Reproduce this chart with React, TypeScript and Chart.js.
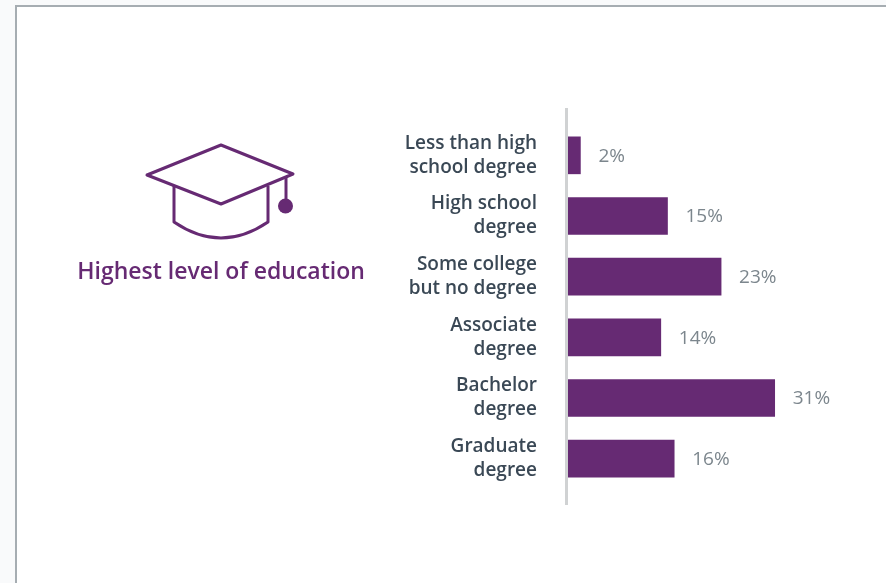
import React, { useEffect, useRef } from "react";
import { Chart, registerables } from "chart.js";

Chart.register(...registerables);

const categories = [
  ["Less than high", "school degree"],
  ["High school", "degree"],
  ["Some college", "but no degree"],
  ["Associate", "degree"],
  ["Bachelor", "degree"],
  ["Graduate", "degree"],
];
const shares = [2, 15, 23, 14, 31, 16];

const PURPLE = "#662a73";
const INK = "#3a4855";
const MUTED = "#7c868d";
const RULE = "#d0d2d3";
const FONT = '"Open Sans", sans-serif';

// Card backdrop, painted first so the chart sits on white.
const cardPlugin = {
  id: "card",
  beforeDraw(chart: any) {
    const { ctx, width, height } = chart;
    ctx.save();
    ctx.fillStyle = "#f9fafb";
    ctx.fillRect(0, 0, width, height);
    ctx.fillStyle = "#ffffff";
    ctx.fillRect(15, 5, width, height);
    ctx.fillStyle = "#a6adb2";
    ctx.fillRect(15, 5, width, 2);
    ctx.fillRect(15, 5, 2, height);
    ctx.restore();
  },
};

// Vertical rule that runs a little past the first and last category.
const axisRulePlugin = {
  id: "axisRule",
  afterDatasetsDraw(chart: any) {
    const { ctx, chartArea } = chart;
    ctx.save();
    ctx.fillStyle = RULE;
    ctx.fillRect(chartArea.left - 2, chartArea.top - 17, 3, chartArea.height + 33);
    ctx.restore();
  },
};

const valueLabelPlugin = {
  id: "valueLabels",
  afterDatasetsDraw(chart: any) {
    const { ctx } = chart;
    const meta = chart.getDatasetMeta(0);
    ctx.save();
    ctx.font = `400 19px ${FONT}`;
    ctx.fillStyle = MUTED;
    ctx.textAlign = "left";
    ctx.textBaseline = "middle";
    meta.data.forEach((bar: any, i: number) => {
      ctx.fillText(`${shares[i]}%`, bar.x + 18, bar.y + 1);
    });
    ctx.restore();
  },
};

// Mortarboard icon and its caption on the left of the panel.
const capPlugin = {
  id: "cap",
  afterDraw(chart: any) {
    const { ctx } = chart;
    ctx.save();
    ctx.strokeStyle = PURPLE;
    ctx.fillStyle = PURPLE;
    ctx.lineWidth = 3;
    ctx.lineJoin = "round";

    ctx.beginPath();
    ctx.moveTo(221, 145);
    ctx.lineTo(293, 174);
    ctx.lineTo(221, 204);
    ctx.lineTo(147, 175);
    ctx.closePath();
    ctx.stroke();

    ctx.beginPath();
    ctx.moveTo(174, 186);
    ctx.lineTo(174, 222);
    ctx.quadraticCurveTo(221, 254, 268, 222);
    ctx.lineTo(268, 186);
    ctx.stroke();

    ctx.beginPath();
    ctx.moveTo(286, 177);
    ctx.lineTo(286, 200);
    ctx.stroke();
    ctx.beginPath();
    ctx.arc(285.5, 206, 7.5, 0, Math.PI * 2);
    ctx.fill();

    ctx.font = `600 23px ${FONT}`;
    ctx.textAlign = "center";
    ctx.textBaseline = "middle";
    ctx.fillText("Highest level of education", 221, 272);
    ctx.restore();
  },
};

export default function App() {
  const canvasRef = useRef<HTMLCanvasElement>(null);

  useEffect(() => {
    document.body.style.margin = "0";
    document.body.style.overflow = "hidden";
    const chart = new Chart(canvasRef.current!, {
      type: "bar",
      data: {
        labels: categories as any,
        datasets: [
          {
            data: shares,
            backgroundColor: PURPLE,
            barThickness: 37,
            borderWidth: 0,
          },
        ],
      },
      plugins: [cardPlugin, axisRulePlugin, valueLabelPlugin, capPlugin],
      options: {
        indexAxis: "y",
        responsive: false,
        animation: false,
        layout: { padding: { top: 125, bottom: 94, left: 0, right: 51 } },
        plugins: { legend: { display: false }, tooltip: { enabled: false } },
        scales: {
          x: { display: false, min: 0, max: 40 },
          y: {
            afterFit(scale: any) {
              scale.width = 567;
            },
            grid: { display: false, drawTicks: false },
            border: { display: false },
            ticks: {
              padding: 30,
              color: INK,
              font: { family: FONT, size: 19, weight: "600", lineHeight: 1.263 },
            },
          },
        },
      },
    });
    return () => chart.destroy();
  }, []);

  return <canvas ref={canvasRef} width={886} height={583} style={{ display: "block" }} />;
}
